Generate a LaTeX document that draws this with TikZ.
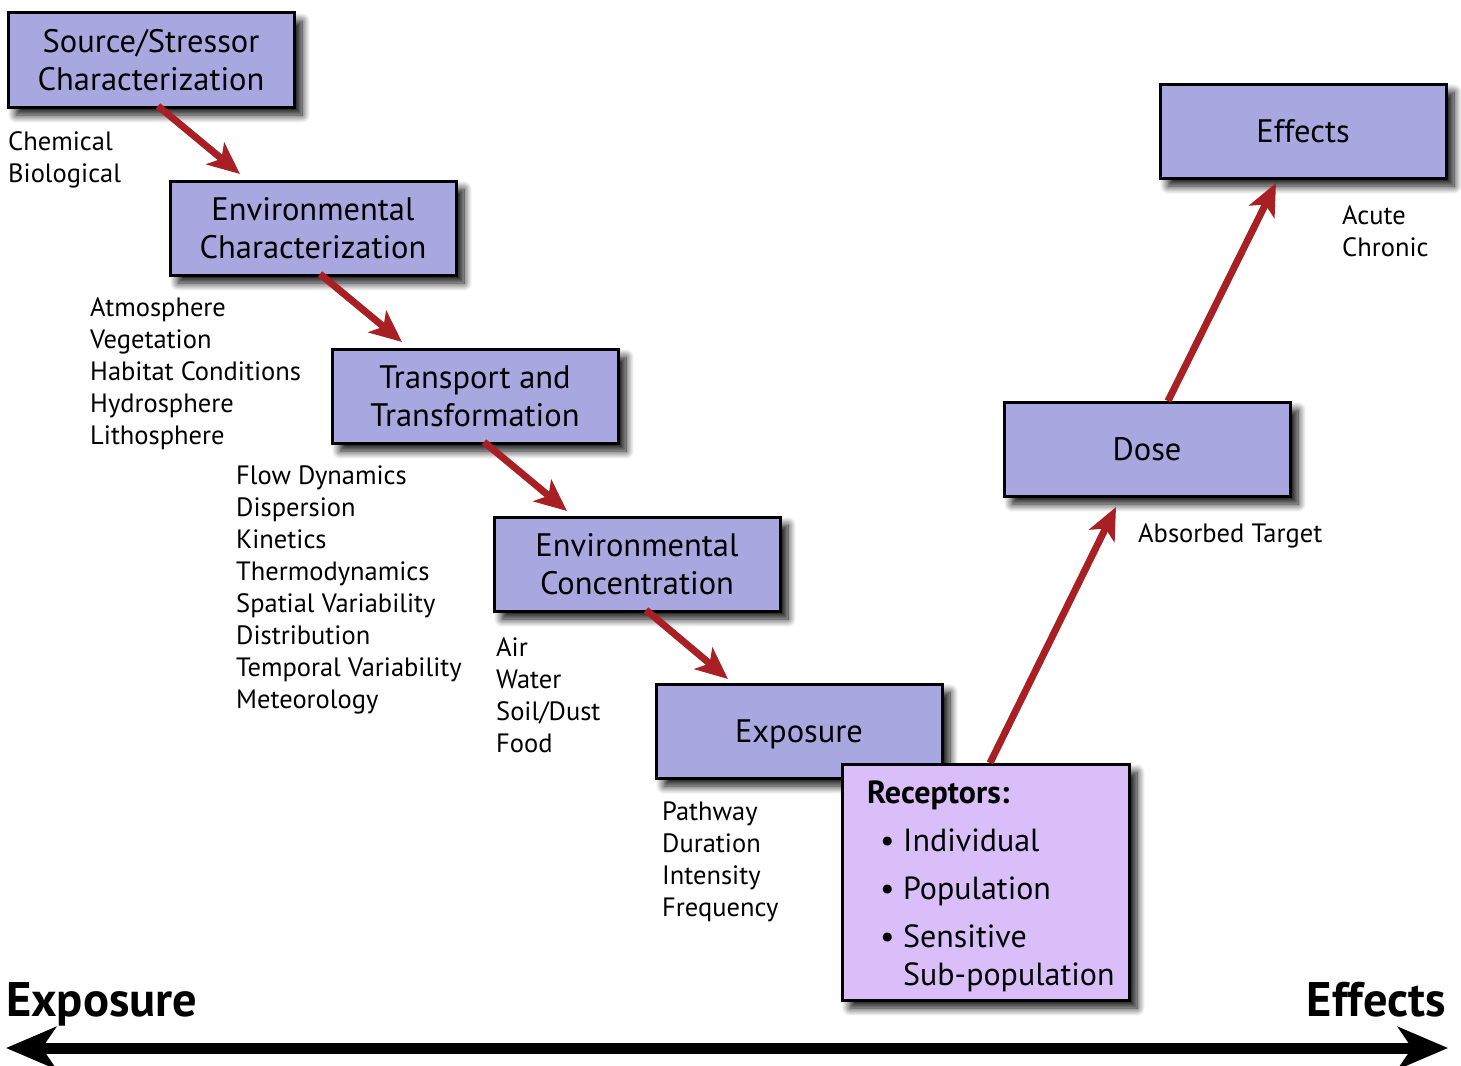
\documentclass[tikz,border=0pt]{standalone}
\usepackage{fontspec}
\setmainfont{PT Sans}
\usetikzlibrary{arrows.meta,shadows.blur,positioning}
\definecolor{boxblue}{HTML}{A9A7DF}
\definecolor{boxlilac}{HTML}{D9BEF9}
\definecolor{flowred}{HTML}{A81F24}
\tikzset{
  stagebox/.style={draw=black, line width=3pt, fill=boxblue, minimum width=286pt,
    minimum height=94pt, align=center, inner sep=0pt,
    font=\fontsize{32.5}{38}\selectfont,
    blur shadow={shadow xshift=8pt, shadow yshift=-8pt, shadow blur steps=10, shadow blur radius=8pt, shadow opacity=95}},
  oneline/.style={text height=23pt, text depth=0pt},
  flow/.style={draw=flowred, line width=7pt,
    -{Stealth[length=32pt, width=28pt, inset=8pt]}},
  notes/.style={anchor=base west, align=left, inner sep=0pt,
    font=\fontsize{26.5}{32}\selectfont},
  axislabel/.style={inner sep=0pt, font=\fontsize{48.5}{50}\selectfont\bfseries}
}
\begin{document}
\begin{tikzpicture}[x=1pt, y=-1pt]
\useasboundingbox (0,0) rectangle (1461,1065);

% stage boxes
\node[stagebox] (src) at (151,60) {Source/Stressor\\Characterization};
\node[stagebox] (env) at (313,228) {Environmental\\Characterization};
\node[stagebox] (trn) at (475,396) {Transport and\\Transformation};
\node[stagebox] (con) at (637,564) {Environmental\\Concentration};
\node[stagebox, oneline] (exp) at (799,731) {Exposure};
\node[stagebox, oneline] (dose) at (1147,449) {Dose};
\node[stagebox, oneline] (eff) at (1303,131) {Effects};
\node[stagebox, fill=boxlilac, minimum width=287pt, minimum height=236pt] (rec) at (985.5,882) {};
\node[anchor=base west, inner sep=0pt, font=\fontsize{32}{34}\selectfont\bfseries] (rechead) at (867,803) {Receptors:};
% base anchor of a multi-line node sits on its last line
\node[anchor=base west, inner sep=0pt, align=left, font=\fontsize{32}{48}\selectfont] (reclist) at (880,985)
  {\textbullet\ Individual\\\textbullet\ Population\\\textbullet\ Sensitive\\[-10pt]\phantom{\textbullet\ }Sub-population};

% notes beside the stages (positioned by the baseline of their last line)
\node[notes] (n1) at (8,182) {Chemical\\Biological};
\node[notes] (n2) at (90,444) {Atmosphere\\Vegetation\\Habitat Conditions\\Hydrosphere\\Lithosphere};
\node[notes] (n3) at (236,708) {Flow Dynamics\\Dispersion\\Kinetics\\Thermodynamics\\Spatial Variability\\Distribution\\Temporal Variability\\Meteorology};
\node[notes] (n4) at (496,752) {Air\\Water\\Soil/Dust\\Food};
\node[notes] (n5) at (662,916) {Pathway\\Duration\\Intensity\\Frequency};
\node[notes] (n6) at (1138,542) {Absorbed Target};
\node[notes] (n7) at (1342,256) {Acute\\Chronic};

% flow arrows
\coordinate (a1s) at (158,106); \coordinate (a1e) at (240,174);
\coordinate (a2s) at (320,274); \coordinate (a2e) at (402,342);
\coordinate (a3s) at (484,442); \coordinate (a3e) at (567,511);
\coordinate (a4s) at (646,610); \coordinate (a4e) at (728,679);
\coordinate (a5s) at (990,763); \coordinate (a5e) at (1116,507);
\coordinate (a6s) at (1168,401); \coordinate (a6e) at (1276,183);
\draw[flow] (a1s) -- (a1e);
\draw[flow] (a2s) -- (a2e);
\draw[flow] (a3s) -- (a3e);
\draw[flow] (a4s) -- (a4e);
\draw[flow] (a5s) -- (a5e);
\draw[flow] (a6s) -- (a6e);

% exposure-effects axis
\node[axislabel, anchor=base west] (lx) at (6,1016) {Exposure};
\node[axislabel, anchor=base east] (rx) at (1446,1016) {Effects};
\coordinate (axl) at (6,1048);
\coordinate (axr) at (1448,1048);
\draw[line width=11pt, {Stealth[length=50pt, width=42pt, inset=14pt]}-{Stealth[length=50pt, width=42pt, inset=14pt]}] (axl) -- (axr);
\end{tikzpicture}
\end{document}
